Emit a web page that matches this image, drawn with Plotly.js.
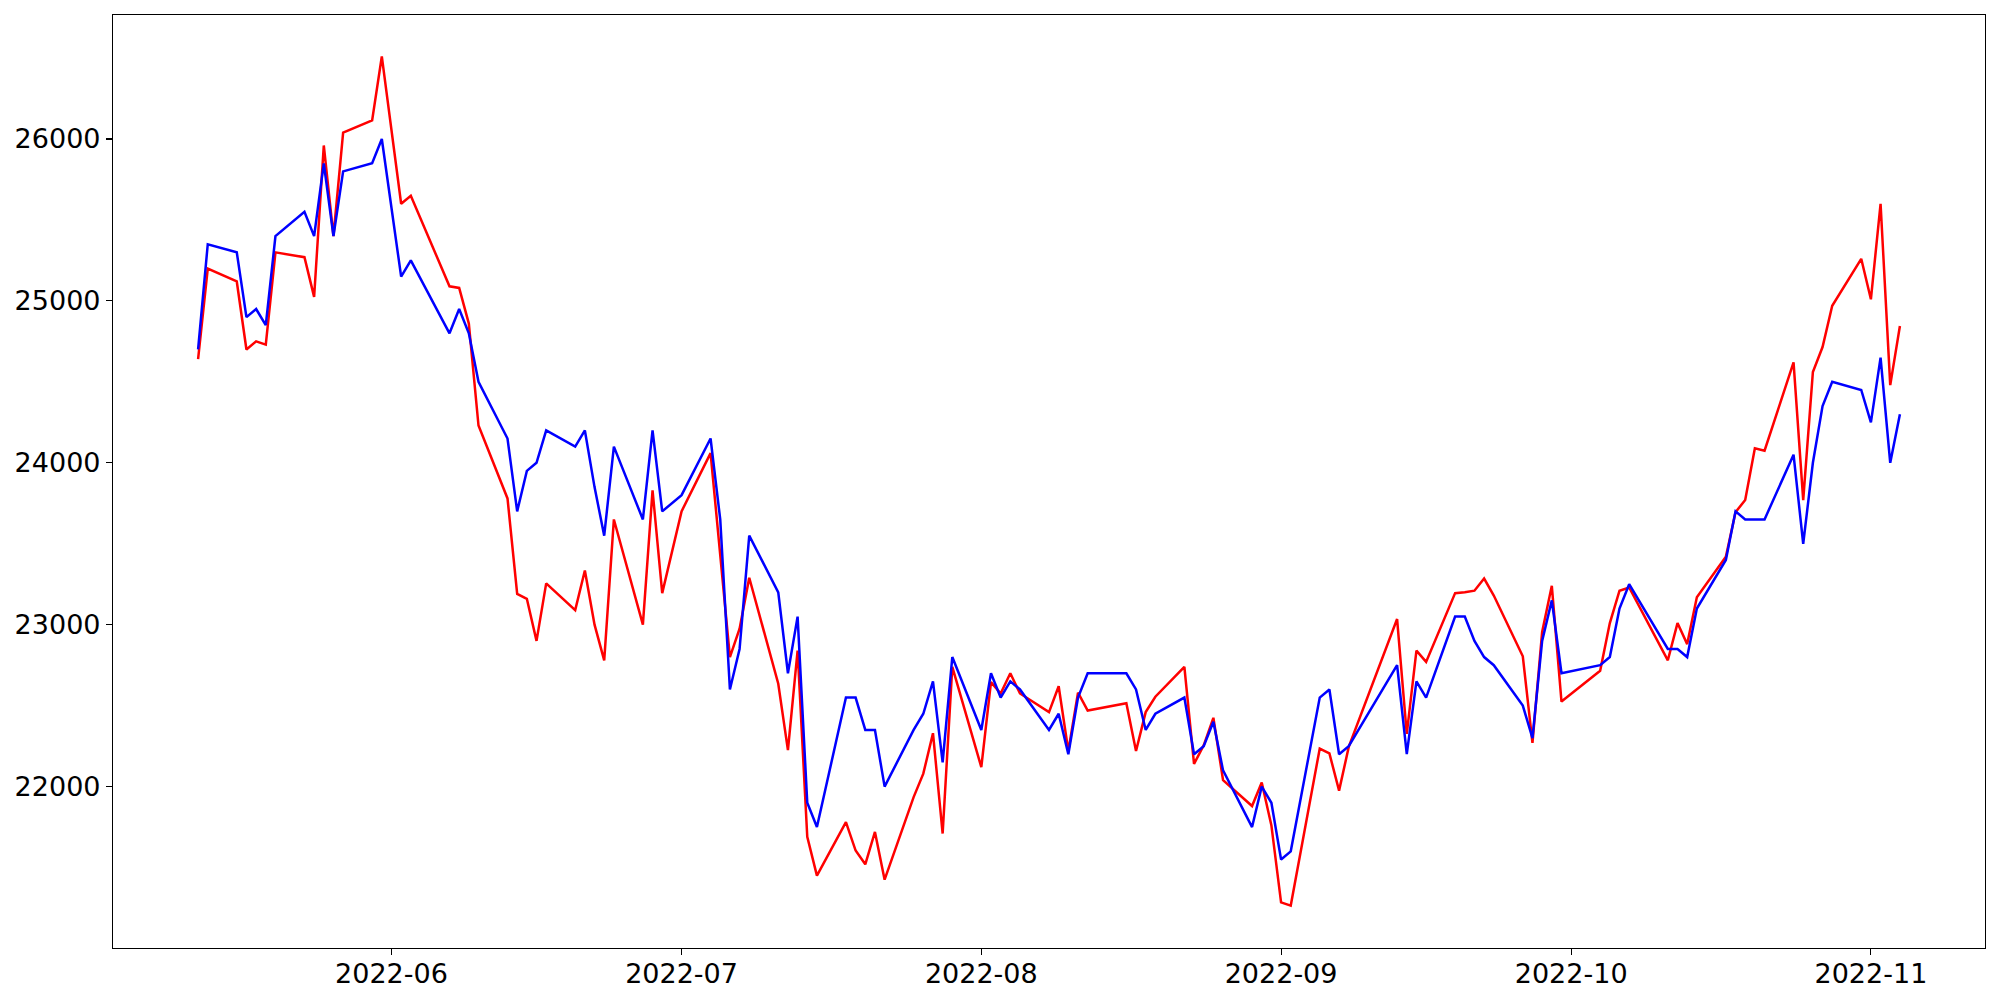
<!DOCTYPE html>
<html>
<head>
<meta charset="utf-8">
<script src="https://cdn.plot.ly/plotly-3.0.1.min.js"></script>
<style>
  html, body { margin: 0; padding: 0; background: #ffffff; }
  #chart { width: 2000px; height: 1000px; }
</style>
</head>
<body>
<div id="chart"></div>
<script>
// Trading dates (Korean market days)
const dates = [
  "2022-05-12","2022-05-13","2022-05-16","2022-05-17","2022-05-18","2022-05-19","2022-05-20",
  "2022-05-23","2022-05-24","2022-05-25","2022-05-26","2022-05-27","2022-05-30","2022-05-31",
  "2022-06-02","2022-06-03","2022-06-07","2022-06-08","2022-06-09","2022-06-10",
  "2022-06-13","2022-06-14","2022-06-15","2022-06-16","2022-06-17",
  "2022-06-20","2022-06-21","2022-06-22","2022-06-23","2022-06-24",
  "2022-06-27","2022-06-28","2022-06-29","2022-06-30","2022-07-01",
  "2022-07-04","2022-07-05","2022-07-06","2022-07-07","2022-07-08",
  "2022-07-11","2022-07-12","2022-07-13","2022-07-14","2022-07-15",
  "2022-07-18","2022-07-19","2022-07-20","2022-07-21","2022-07-22",
  "2022-07-25","2022-07-26","2022-07-27","2022-07-28","2022-07-29",
  "2022-08-01","2022-08-02","2022-08-03","2022-08-04","2022-08-05",
  "2022-08-08","2022-08-09","2022-08-10","2022-08-11","2022-08-12",
  "2022-08-16","2022-08-17","2022-08-18","2022-08-19",
  "2022-08-22","2022-08-23","2022-08-24","2022-08-25","2022-08-26",
  "2022-08-29","2022-08-30","2022-08-31","2022-09-01","2022-09-02",
  "2022-09-05","2022-09-06","2022-09-07","2022-09-08",
  "2022-09-13","2022-09-14","2022-09-15","2022-09-16",
  "2022-09-19","2022-09-20","2022-09-21","2022-09-22","2022-09-23",
  "2022-09-26","2022-09-27","2022-09-28","2022-09-29","2022-09-30",
  "2022-10-04","2022-10-05","2022-10-06","2022-10-07",
  "2022-10-11","2022-10-12","2022-10-13","2022-10-14",
  "2022-10-17","2022-10-18","2022-10-19","2022-10-20","2022-10-21",
  "2022-10-24","2022-10-25","2022-10-26","2022-10-27","2022-10-28",
  "2022-10-31","2022-11-01","2022-11-02","2022-11-03","2022-11-04"
];

// Blue series (actual)
const blueValues = [
  24700,25350,25300,24900,24950,24850,25400,
  25550,25400,25850,25400,25800,25850,26000,
  25150,25250,24800,24950,24800,24500,
  24150,23700,23950,24000,24200,
  24100,24200,23850,23550,24100,
  23650,24200,23700,23750,23800,
  24150,23650,22600,22850,23550,
  23200,22700,23050,21900,21750,
  22550,22550,22350,22350,22000,
  22350,22450,22650,22150,22800,
  22350,22700,22550,22650,22600,
  22350,22450,22200,22550,22700,
  22700,22600,22350,22450,
  22550,22200,22250,22400,22100,
  21750,22000,21900,21550,21600,
  22550,22600,22200,22250,
  22750,22200,22650,22550,
  23050,23050,22900,22800,22750,
  22500,22300,22900,23150,22700,
  22750,22800,23100,23250,
  22850,22850,22800,23100,
  23400,23700,23650,23650,23650,
  24050,23500,24000,24350,24500,
  24450,24250,24650,24000,24300
];

// Red series (predicted)
const redValues = [
  24640,25200,25120,24700,24750,24730,25300,
  25270,25025,25960,25400,26040,26115,26510,
  25600,25650,25090,25080,24860,24230,
  23780,23190,23160,22900,23255,
  23090,23335,23000,22780,23650,
  23000,23830,23195,23450,23700,
  24060,23440,22800,22975,23290,
  22635,22225,22840,21690,21450,
  21780,21605,21520,21720,21425,
  21935,22080,22330,21710,22740,
  22120,22645,22575,22700,22575,
  22460,22620,22220,22580,22470,
  22515,22220,22460,22555,
  22740,22140,22255,22425,22040,
  21880,22025,21760,21285,21265,
  22235,22205,21975,22245,
  23035,22325,22840,22770,
  23195,23200,23210,23285,23180,
  22805,22270,22955,23240,22525,
  22715,23010,23210,23230,
  22780,23010,22880,23170,
  23420,23695,23770,24090,24075,
  24620,23770,24560,24715,24970,
  25260,25010,25600,24480,24845
];

const xRange = ["2022-05-03 04:48", "2022-11-12 19:12"];
const yRange = [21003, 26766];

const tickFont = { family: "DejaVu Sans", size: 27, color: "#000000" };

const traces = [
  { x: dates, y: redValues, type: "scatter", mode: "lines",
    line: { color: "#ff0000", width: 2.5 }, name: "red", hoverinfo: "skip" },
  { x: dates, y: blueValues, type: "scatter", mode: "lines",
    line: { color: "#0000ff", width: 2.5 }, name: "blue", hoverinfo: "skip" }
];

const axisCommon = {
  showgrid: false, zeroline: false,
  showline: true, linecolor: "#000000", linewidth: 1.1, mirror: true,
  ticks: "outside", ticklen: 6, tickwidth: 1.1, tickcolor: "#000000",
  tickfont: tickFont
};

const layout = {
  width: 2000, height: 1000,
  margin: { l: 113, r: 15, t: 15, b: 52, pad: 0 },
  paper_bgcolor: "#ffffff", plot_bgcolor: "#ffffff",
  showlegend: false,
  xaxis: Object.assign({}, axisCommon, {
    type: "date", range: xRange, autorange: false,
    tick0: "2022-06-01", dtick: "M1", tickformat: "%Y-%m",
    ticklabelstandoff: -5
  }),
  yaxis: Object.assign({}, axisCommon, {
    range: yRange, autorange: false,
    tick0: 0, dtick: 1000, tickformat: "d"
  })
};

Plotly.newPlot("chart", traces, layout, { displayModeBar: false, staticPlot: true });
</script>
</body>
</html>
